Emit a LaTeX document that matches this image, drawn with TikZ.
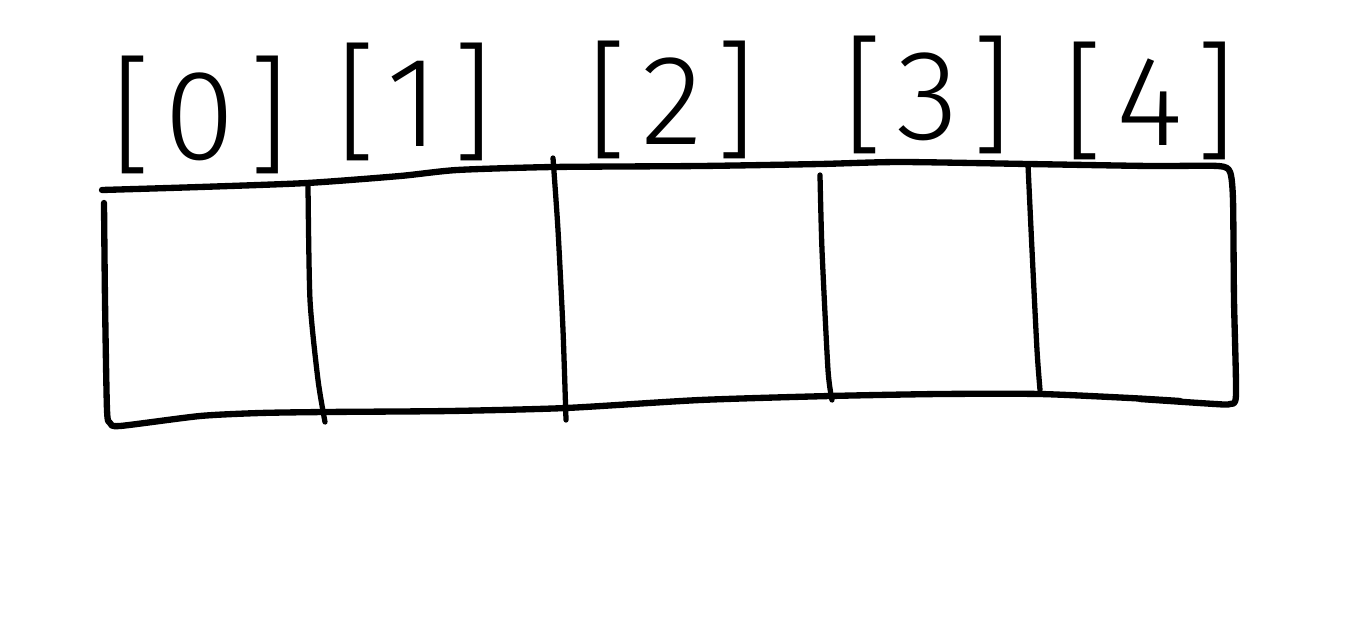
\documentclass[tikz,border=0pt]{standalone}
\usepackage{fontspec}
\newfontfamily\handfont{Fira Sans Light}[LetterSpace=10]
\begin{document}
\begin{tikzpicture}[x=0.02cm,y=-0.02cm,
  ink/.style={line width=3.6pt,line cap=round,line join=round,black},
  thin ink/.style={line width=3pt,line cap=round,line join=round,black},
  idx/.style={font=\handfont\fontsize{73}{73}\selectfont,inner sep=0pt,anchor=center}]
\useasboundingbox (0,0) rectangle (1350,629);
\fill[white] (0,0) rectangle (1350,629);
% index labels
\node[idx] (i0) at (200,115) {[0]};
\node[idx] (i1) at (415,102) {[1]};
\node[idx] (i2) at (672,100) {[2]};
\node[idx] (i3) at (928,95) {[3]};
\node[idx] (i4) at (1150,101) {[4]};
% top edge and right side
\draw[ink] plot[smooth,tension=0.4] coordinates {(102,190) (200,187) (307,183) (400,176) (457,170) (553,167) (700,166) (820,164) (900,162) (1028,164) (1150,166) (1218,166) (1230,172) (1233,200) (1234,300) (1236,395) (1230,404) (1215,404) (1140,399)};
% left side and bottom edge
\draw[ink] plot[smooth,tension=0.4] coordinates {(104,203) (105,300) (107,410) (110,423) (120,426) (200,416) (260,413) (325,412) (450,411) (566,408) (700,400) (830,396) (940,394) (1040,394) (1130,398) (1180,401)};
% dividers
\draw[thin ink] plot[smooth,tension=0.4] coordinates {(308,185) (310,300) (318,380) (325,422)};
\draw[thin ink] plot[smooth,tension=0.4] coordinates {(553,158) (558,230) (563,330) (566,420)};
\draw[thin ink] plot[smooth,tension=0.4] coordinates {(820,175) (822,250) (828,370) (832,400)};
\draw[thin ink] plot[smooth,tension=0.4] coordinates {(1028,165) (1032,250) (1037,350) (1040,390)};
\end{tikzpicture}
\end{document}
